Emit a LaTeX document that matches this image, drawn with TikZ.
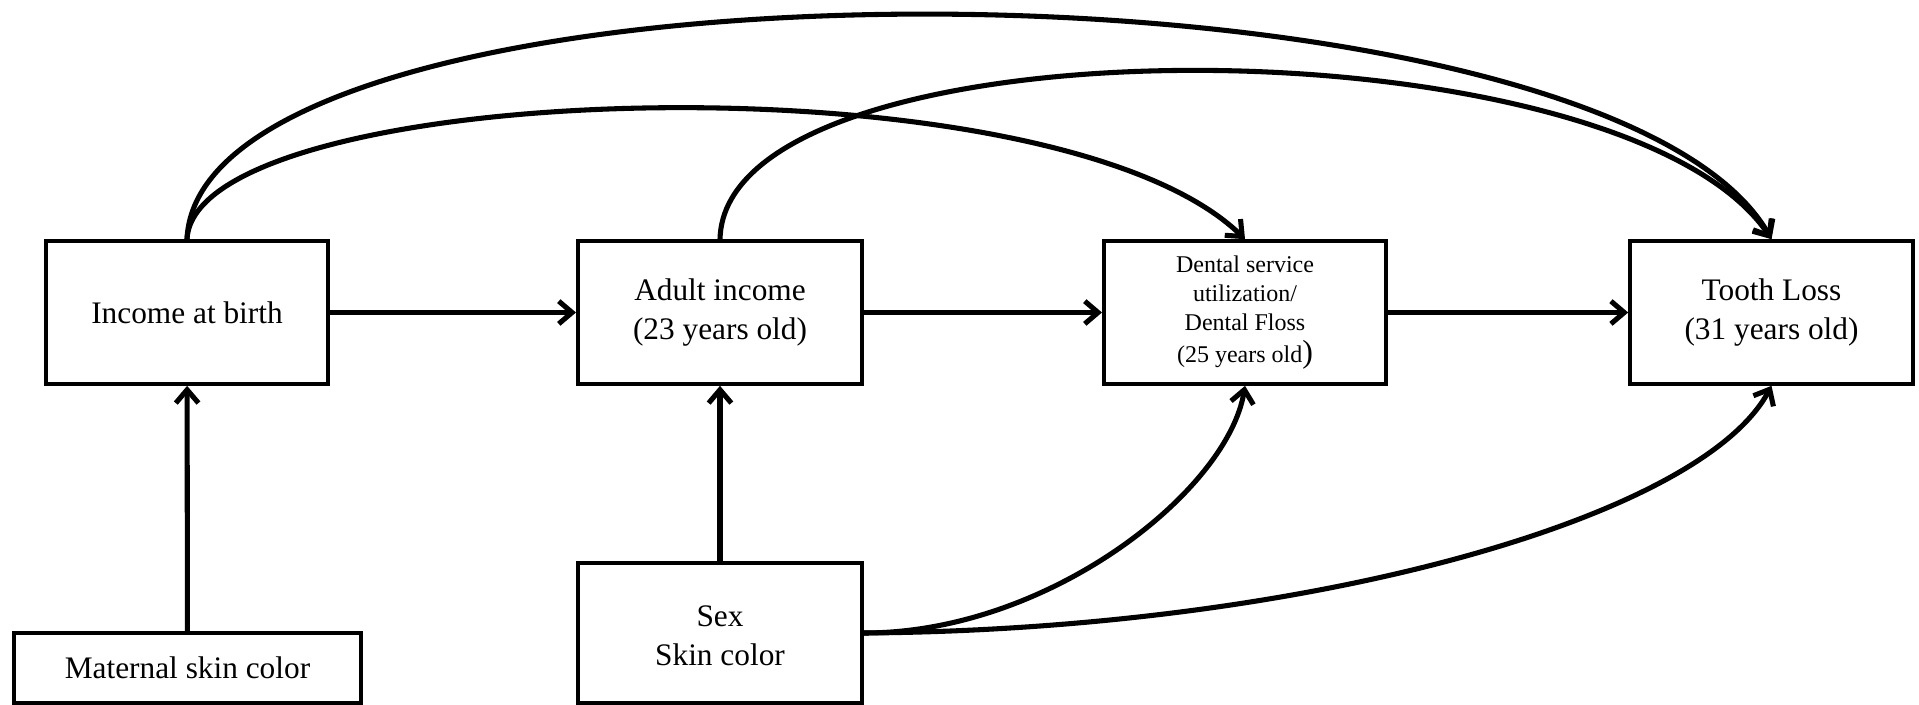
\documentclass[tikz,border=0pt]{standalone}
\usepackage{fontspec}
\setmainfont{Liberation Serif}
\usetikzlibrary{arrows.meta}

\tikzset{every picture/.style={line width=3pt}}
\tikzset{box/.style={draw, rectangle, align=center, inner sep=0pt, font=\fontsize{23.5}{29.5}\selectfont}}
\tikzset{arr/.style={line width=3.8pt, -{Straight Barb[length=10pt,width=17pt,line width=3.8pt]}}}

\begin{document}
\begin{tikzpicture}[x=0.75pt,y=0.75pt,yscale=-1,xscale=1]
\useasboundingbox (0,0) rectangle (1919,705);

% Text Node
\draw (187,312.5) node [box, minimum width=211.5pt, minimum height=107pt] (birth) {Income at birth};
% Text Node
\draw (720,312.5) node [box, minimum width=213pt, minimum height=107pt] (adult) {Adult income\\(23 years old)};
% Text Node
\draw (1245,312.5) node [box, minimum width=211.5pt, minimum height=107pt, font=\fontsize{18}{22}\selectfont] (dental) {Dental service\\utilization/\\Dental Floss\\[2pt](25 years old{\fontsize{24}{24}\selectfont )}};
% Text Node
\draw (1771.5,312.5) node [box, minimum width=212pt, minimum height=107pt] (tooth) {Tooth Loss\\(31 years old)};
% Text Node
\draw (187.5,668) node [box, minimum width=260pt, minimum height=52.5pt] (maternal) {Maternal skin color};
% Text Node
\draw (720,633) node [box, minimum width=213pt, minimum height=105pt] (sex) {\raisebox{0pt}[0pt][0pt]{}\\[-10pt]Sex\\Skin color};

%Straight Lines
\draw [arr] (birth) -- (adult) ;
%Straight Lines
\draw [arr] (adult) -- (dental) ;
%Straight Lines
\draw [arr] (dental) -- (tooth) ;
%Straight Lines
\draw [arr] (maternal) -- (birth) ;
%Straight Lines
\draw [arr] (sex) -- (adult) ;

%Curve Lines
\draw [arr] (sex.east) .. controls (1050,633) and (1228,490) .. (dental.south) ;
%Curve Lines
\draw [arr] (sex.east) .. controls (1300,630) and (1700,520) .. (tooth.south) ;
%Curve Lines
\draw [arr] (birth.north) .. controls (195,80) and (1050,50) .. (dental.north) ;
%Curve Lines
\draw [arr] (birth.north) .. controls (200,-60) and (1600,-60) .. (tooth.north) ;
%Curve Lines
\draw [arr] (adult.north) .. controls (725,15) and (1620,15) .. (tooth.north) ;

\end{tikzpicture}
\end{document}
